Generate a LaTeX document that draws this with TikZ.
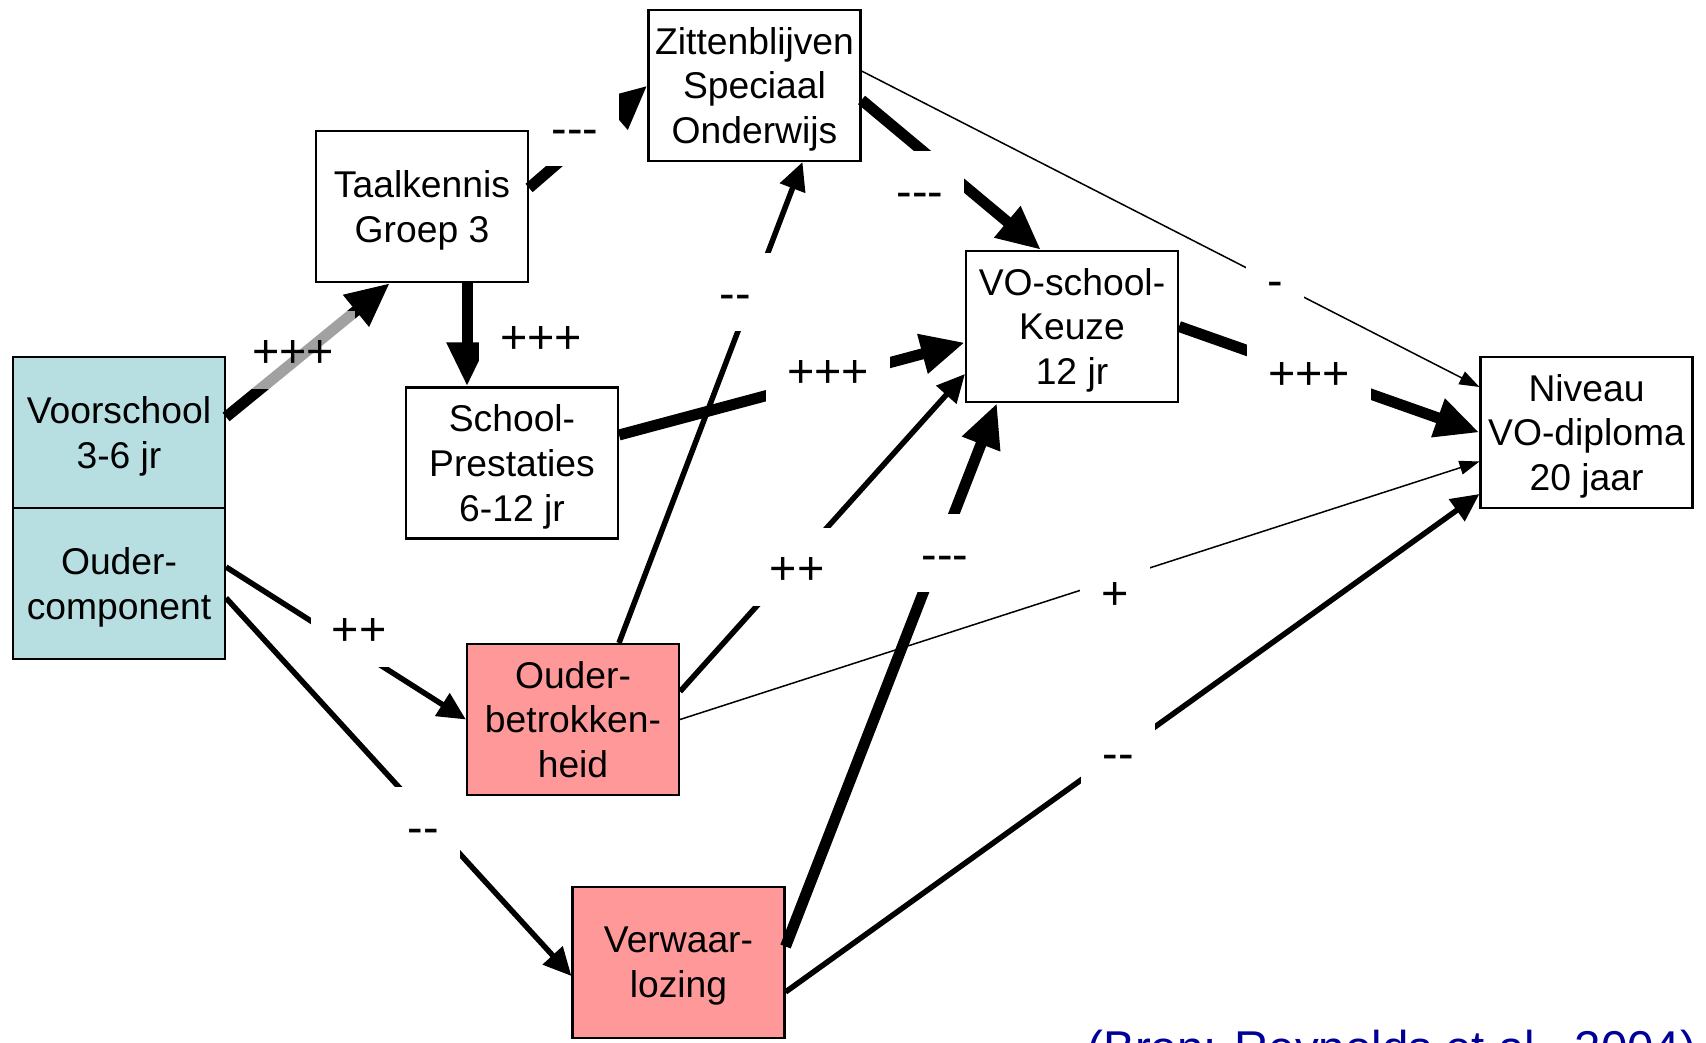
\documentclass[tikz,border=0pt]{standalone}
\usepackage{fontspec}
\setmainfont{Liberation Sans}
\usepackage{tikz}
\usetikzlibrary{arrows.meta, positioning}

\definecolor{preblue}{RGB}{183,222,225}
\definecolor{homered}{RGB}{255,153,153}
\definecolor{srcblue}{RGB}{0,0,153}

\newcommand{\boxfont}{\fontsize{10.6}{12.7}\selectfont}
\newcommand{\signfont}{\fontsize{13.3}{16}\selectfont}
\newcommand{\mn}{-\kern0pt}

\begin{document}
\begin{tikzpicture}[
    factor/.style = {
      draw, line width=0.6pt,
      minimum width=2.12cm, minimum height=1.51cm,
      align=center,
      inner sep=0pt,
      font=\boxfont,
      text depth=-0.08em,
      fill=white
    },
    preschool/.style = {factor, fill=preblue},
    home/.style      = {factor, fill=homered},
    weakedge/.style   = {line width=0.015cm, -{Triangle[length=0.2cm, width=0.14cm]}},
    midedge/.style    = {line width=0.055cm, -{Triangle[length=0.28cm, width=0.26cm]}},
    strongedge/.style = {line width=0.11cm, -{Triangle[length=0.44cm, width=0.38cm]}},
    sign/.style = {fill=white, inner xsep=0.21cm, inner ysep=0pt,
      minimum height=0.78cm, text height=0.98em, text depth=0pt,
      font=\signfont}
  ]

    \useasboundingbox (0,0) rectangle (17.06,-10.43);
    \clip (0,0) rectangle (17.06,-10.43);

    \node[preschool] (voor) at (1.19,-4.325) {Voorschool\\3-6 jr};
    \node[preschool, below=-0.6pt of voor] (ouderc) {Ouder-\\component};

    \node[factor] (taal) at (4.22,-2.065) {Taalkennis\\Groep 3};
    \node[factor] (school) at (5.12,-4.63) {School-\\Prestaties\\6-12 jr};
    \node[factor] (zit) at (7.545,-0.855) {Zittenblijven\\Speciaal\\Onderwijs};
    \node[factor] (vo) at (10.72,-3.265) {VO-school-\\Keuze\\12 jr};
    \node[factor] (niv) at (15.865,-4.325) {Niveau\\VO-diploma\\20 jaar};

    \node[home] (ob) at (5.73,-7.195) {Ouder-\\betrokken-\\heid};
    \node[home] (verw) at (6.785,-9.625) {Verwaar-\\lozing};

    \node[anchor=base west, inner sep=0pt, text=srcblue,
          font=\fontsize{13.5}{16}\selectfont] (bron) at (10.87,-10.64)
      {(Bron: Reynolds et al., 2004)};

    % paths
    \draw[strongedge] ([yshift=0.155cm]voor.east) -- ([xshift=-0.32cm]taal.south);
    \draw[strongedge] ([xshift=0.45cm]taal.south) -- ([xshift=-0.45cm]school.north);
    \draw[strongedge] ([yshift=0.185cm]taal.east) -- (zit.west);
    \draw[strongedge] ([yshift=-0.145cm]zit.east) -- ([xshift=-0.31cm]vo.north);
    \draw[weakedge]   ([yshift=0.145cm]zit.east) -- ([yshift=0.455cm]niv.west);
    \draw[strongedge] ([yshift=0.28cm]school.east) -- ([yshift=-0.16cm]vo.west);
    \draw[midedge]    ([xshift=0.46cm]ob.north) -- ([xshift=0.48cm]zit.south);
    \draw[midedge]    ([yshift=0.28cm]ob.east) -- ([yshift=-0.475cm]vo.west);
    \draw[strongedge] ([yshift=0.16cm]verw.east) -- ([xshift=-0.75cm]vo.south);
    \draw[weakedge]   (ob.east) -- ([yshift=-0.29cm]niv.west);
    \draw[midedge]    ([yshift=-0.295cm]verw.east) -- ([yshift=-0.615cm]niv.west);
    \draw[midedge]    ([yshift=0.165cm]ouderc.east) -- (ob.west);
    \draw[midedge]    ([yshift=-0.145cm]ouderc.east) -- ([yshift=-0.135cm]verw.west);
    \draw[strongedge] (vo.east) -- (niv.west);

    % signs
    \node[sign, fill opacity=0.63, text opacity=1] (s-voor-taal) at (2.93,-3.505) {+++};
    \node[sign] (s-taal-school) at (5.41,-3.36) {+++};
    \node[sign] (s-taal-zit) at (5.75,-1.27) {\mn\mn\mn};
    \node[sign] (s-zit-vo) at (9.20,-1.90) {\mn\mn\mn};
    \node[sign] (s-zit-niv) at (12.75,-2.79) {\mn};
    \node[sign] (s-school-vo) at (8.28,-3.70) {+++};
    \node[sign] (s-ob-zit) at (7.35,-2.92) {\mn\mn};
    \node[sign] (s-ob-vo) at (7.97,-5.67) {++};
    \node[sign] (s-verw-vo) at (9.45,-5.53) {\mn\mn\mn};
    \node[sign] (s-ob-niv) at (11.15,-5.92) {+};
    \node[sign] (s-verw-niv) at (11.18,-7.52) {\mn\mn};
    \node[sign] (s-ouder-ob) at (3.59,-6.28) {++};
    \node[sign] (s-ouder-verw) at (4.23,-8.26) {\mn\mn};
    \node[sign] (s-vo-niv) at (13.09,-3.72) {+++};

  \end{tikzpicture}
\end{document}
